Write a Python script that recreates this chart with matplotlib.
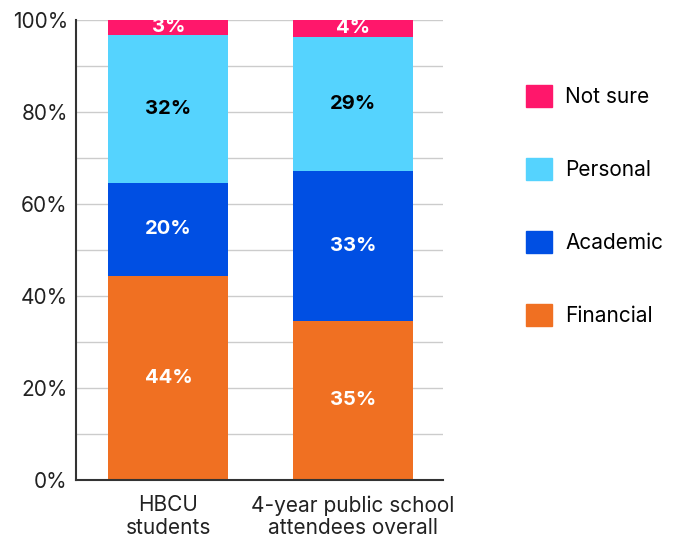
import matplotlib
matplotlib.use("Agg")
import matplotlib.pyplot as plt
import numpy as np
from matplotlib.patches import Patch
from matplotlib.ticker import FuncFormatter, MultipleLocator

plt.rcParams["font.family"] = ["Inter", "DejaVu Sans"]

groups = ["HBCU\nstudents", "4-year public school\nattendees overall"]
categories = ["Financial", "Academic", "Personal", "Not sure"]
financial = [44.3, 34.6]
academic = [20.3, 32.6]
personal = [32.2, 29.1]
not_sure = [3.2, 3.7]

colors = ["#F07022", "#004FE3", "#55D3FE", "#FF176B"]
text_colors = ["white", "white", "black", "white"]

fig = plt.figure(figsize=(6.8, 5.37), dpi=100)
ax = fig.add_axes([0.112, 0.106, 0.54, 0.857])

x = np.arange(len(groups))
bottom = np.zeros(len(groups))
for vals, col, tcol in zip([financial, academic, personal, not_sure], colors, text_colors):
    vals = np.array(vals)
    ax.bar(x, vals, bottom=bottom, width=0.65, color=col, zorder=2)
    for xi, b, v in zip(x, bottom, vals):
        ax.text(xi, b + v / 2, f"{round(v):d}%", ha="center", va="center",
                color=tcol, fontsize=14.5, fontweight="bold", zorder=3)
    bottom += vals

ax.set_xlim(-0.5, 1.49)
ax.set_ylim(0, 100)
ax.yaxis.set_major_locator(MultipleLocator(20))
ax.yaxis.set_minor_locator(MultipleLocator(10))
ax.yaxis.set_major_formatter(FuncFormatter(lambda v, _: f"{v:.0f}%"))
ax.grid(axis="y", which="both", color="#CCCCCC", lw=1, zorder=0)
ax.set_xticks(x)
ax.set_xticklabels(groups, fontsize=15, color="#222222", linespacing=1.15)
ax.tick_params(axis="y", labelsize=15, colors="#222222", length=0, pad=6)
ax.tick_params(axis="y", which="minor", length=0)
ax.tick_params(axis="x", length=0, pad=11)
for s in ["top", "right"]:
    ax.spines[s].set_visible(False)
for s in ["left", "bottom"]:
    ax.spines[s].set_color("#333333")
    ax.spines[s].set_linewidth(1.5)

handles = [Patch(color=c, label=l) for c, l in zip(colors, categories)][::-1]
fig.legend(handles=handles, loc="upper left", bbox_to_anchor=(0.7606, 0.858),
           frameon=False, fontsize=15, handlelength=1.25, handleheight=1.25,
           labelspacing=2.45, handletextpad=0.65, borderaxespad=0)

fig.savefig("out.png", dpi=100)
